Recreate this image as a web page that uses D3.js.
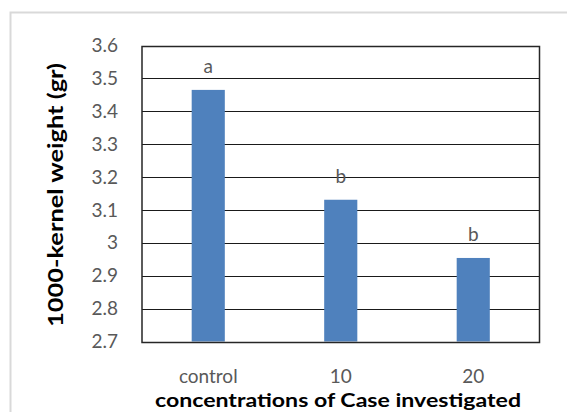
<!DOCTYPE html>
<html>
<head>
<meta charset="utf-8">
<script src="https://cdn.jsdelivr.net/npm/d3@7"></script>
<style>
  body { margin: 0; background: #fff; }
  text { font-family: Lato, "Open Sans", sans-serif; }
</style>
</head>
<body>
<div class="chart-holder"></div>
<script>
const categories = ["control", "10", "20"];
const values = [3.465, 3.131, 2.954];
const letters = ["a", "b", "b"];
const yTicks = [2.7, 2.8, 2.9, 3, 3.1, 3.2, 3.3, 3.4, 3.5, 3.6];

const width = 567, height = 412;
const margin = { top: 45.5, right: 27.5, bottom: 70.5, left: 142 };

const svg = d3.select(".chart-holder").append("svg")
  .attr("width", width).attr("height", height);

// outer chart frame
svg.append("rect")
  .attr("x", 10.5).attr("y", 12.5)
  .attr("width", 580).attr("height", 420)
  .attr("fill", "none").attr("stroke", "#d9d9d9").attr("stroke-width", 2);

const x = d3.scaleBand()
  .domain(categories)
  .range([margin.left, width - margin.right])
  .paddingInner(0.75).paddingOuter(0.375);

const y = d3.scaleLinear()
  .domain([2.7, 3.6])
  .range([height - margin.bottom, margin.top]);

// gridlines
svg.append("g").selectAll("line")
  .data(yTicks)
  .enter().append("line")
  .attr("x1", margin.left).attr("x2", width - margin.right)
  .attr("y1", d => Math.round(y(d)) + 0.5).attr("y2", d => Math.round(y(d)) + 0.5)
  .attr("stroke", "#1a1a1a").attr("stroke-width", 1);

// bars
svg.append("g").selectAll("rect")
  .data(values)
  .enter().append("rect")
  .attr("x", (d, i) => x(categories[i]))
  .attr("y", d => y(d))
  .attr("width", x.bandwidth())
  .attr("height", d => y(2.7) - y(d))
  .attr("fill", "#4f81bd");

// plot border
svg.append("rect")
  .attr("x", margin.left).attr("y", Math.round(y(3.6)) + 0.5)
  .attr("width", width - margin.right - margin.left)
  .attr("height", Math.round(y(2.7)) - Math.round(y(3.6)))
  .attr("fill", "none").attr("stroke", "#262626").attr("stroke-width", 1.5);

// significance letters
svg.append("g").selectAll("text")
  .data(letters)
  .enter().append("text")
  .attr("x", (d, i) => x(categories[i]) + x.bandwidth() / 2)
  .attr("y", (d, i) => y(values[i]) - 24)
  .attr("text-anchor", "middle")
  .attr("dominant-baseline", "central")
  .attr("fill", "#595959")
  .attr("font-size", 19)
  .text(d => d);

// y axis labels
const yAxis = d3.axisLeft(y).tickValues(yTicks).tickSize(0).tickPadding(24)
  .tickFormat(d3.format("~g"));
const yG = svg.append("g")
  .attr("transform", `translate(${margin.left},0)`)
  .call(yAxis);
yG.select(".domain").remove();
yG.selectAll("text")
  .attr("fill", "#595959")
  .attr("font-size", 19)
  .attr("font-family", "Lato, 'Open Sans', sans-serif");

// x axis labels
svg.append("g").selectAll("text")
  .data(categories)
  .enter().append("text")
  .attr("x", d => x(d) + x.bandwidth() / 2)
  .attr("y", 383)
  .attr("text-anchor", "middle")
  .attr("fill", "#595959")
  .attr("font-size", 19)
  .text(d => d);

// axis titles
svg.append("text")
  .attr("x", 338).attr("y", 407)
  .attr("text-anchor", "middle")
  .attr("font-weight", "bold")
  .attr("font-size", 19)
  .attr("textLength", 366)
  .attr("lengthAdjust", "spacingAndGlyphs")
  .attr("fill", "#000")
  .text("concentrations of Case investigated");

svg.append("text")
  .attr("transform", "translate(63,195) rotate(-90)")
  .attr("text-anchor", "middle")
  .attr("font-weight", "bold")
  .attr("font-size", 20)
  .attr("textLength", 264)
  .attr("lengthAdjust", "spacingAndGlyphs")
  .attr("fill", "#000")
  .text("1000-kernel weight (gr)");
</script>
</body>
</html>
